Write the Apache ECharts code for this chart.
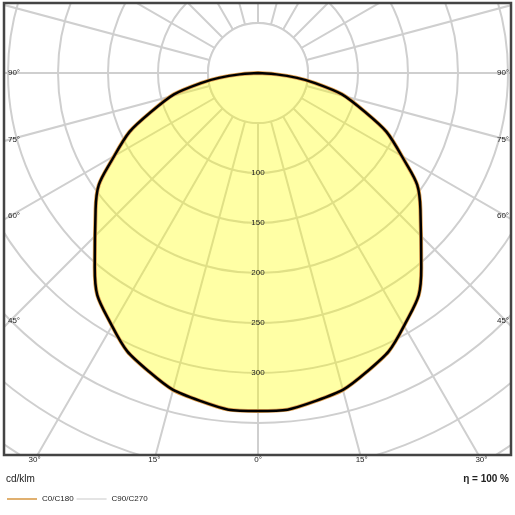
<!DOCTYPE html>
<html>
<head>
<meta charset="utf-8">
<script src="https://cdn.jsdelivr.net/npm/echarts@6/dist/echarts.min.js"></script>
<style>html,body{margin:0;padding:0;background:#fff}#chart{width:515px;height:515px}</style>
</head>
<body>
<div id="chart"></div>
<script>
// angle from nadir (deg) and intensity (cd/klm)
var gammaAngles = [0, 10, 20, 30, 40, 50, 60, 70, 80, 90];
var intensityC0 = [338, 333, 318, 292, 254, 212, 166, 114, 58, 0];
var intensityC90 = [338, 333, 318, 292, 254, 212, 166, 114, 58, 0];
var ringLabels = [100, 150, 200, 250, 300];
var sideLabels = ['90°', '75°', '60°', '45°'];
var sideAngles = [90, 75, 60, 45];
var bottomLabels = ['30°', '15°', '0°', '15°', '30°'];
var bottomAngles = [-30, -15, 0, 15, 30];

var cx = 258, cy = 73;
var frame = {x: 4, y: 3, w: 507, h: 452};

function curve(vals) {
    var pts = [];
    for (var i = gammaAngles.length - 1; i > 0; i--) pts.push([vals[i], -gammaAngles[i]]);
    for (var j = 0; j < gammaAngles.length; j++) pts.push([vals[j], gammaAngles[j]]);
    return pts;
}

var myChart = echarts.init(document.getElementById('chart'));
var graphics = [
    {type: 'circle', shape: {cx: cx, cy: cy, r: 50}, style: {fill: '#fff', stroke: '#cfcfcf', lineWidth: 2}, z: 1}
];
// cover outside the frame
[[0, 0, 515, frame.y], [0, frame.y + frame.h, 515, 515], [0, 0, frame.x, 515], [frame.x + frame.w, 0, 10, 515]].forEach(function (r) {
    graphics.push({type: 'rect', shape: {x: r[0], y: r[1], width: r[2], height: r[3]}, style: {fill: '#fff'}, z: 100});
});
graphics.push({type: 'rect', shape: {x: frame.x, y: frame.y, width: frame.w, height: frame.h},
    style: {fill: 'none', stroke: '#444', lineWidth: 2.5}, z: 101});
ringLabels.forEach(function (v) {
    graphics.push({type: 'text', x: cx, y: cy + v, z: 50,
        style: {text: String(v), fill: '#222', font: '8px Liberation Sans', align: 'center', verticalAlign: 'middle'}});
});
sideAngles.forEach(function (a, i) {
    var y = cy + Math.abs(cx - frame.x - 6) / Math.tan(a * Math.PI / 180);
    graphics.push({type: 'text', x: 14, y: y, z: 102,
        style: {text: sideLabels[i], fill: '#222', font: '8px Liberation Sans', align: 'center', verticalAlign: 'middle'}});
    graphics.push({type: 'text', x: 503, y: y, z: 102,
        style: {text: sideLabels[i], fill: '#222', font: '8px Liberation Sans', align: 'center', verticalAlign: 'middle'}});
});
bottomAngles.forEach(function (a, i) {
    var y = 460;
    var x = cx + (y - cy) * Math.tan(a * Math.PI / 180);
    graphics.push({type: 'text', x: x, y: y, z: 102,
        style: {text: bottomLabels[i], fill: '#222', font: '8px Liberation Sans', align: 'center', verticalAlign: 'middle'}});
});
graphics.push({type: 'text', x: 6, y: 479, z: 102,
    style: {text: 'cd/klm', fill: '#222', font: '10px Liberation Sans', verticalAlign: 'middle'}});
graphics.push({type: 'text', x: 509, y: 479, z: 102,
    style: {text: 'η = 100 %', fill: '#222', font: 'bold 10px Liberation Sans', align: 'right', verticalAlign: 'middle'}});

var option = {
    animation: false,
    polar: {center: [cx, cy], radius: [0, 600]},
    radiusAxis: {
        min: 0, max: 600, interval: 50,
        axisLine: {show: false}, axisTick: {show: false}, axisLabel: {show: false},
        splitLine: {show: true, lineStyle: {color: '#cfcfcf', width: 2}}
    },
    angleAxis: {
        type: 'value', min: -180, max: 180, interval: 15, startAngle: 90,
        axisLine: {show: false}, axisTick: {show: false}, axisLabel: {show: false},
        splitLine: {show: true, lineStyle: {color: '#cfcfcf', width: 2}}
    },
    legend: {
        left: 2, top: 490, orient: 'vertical', itemWidth: 30, itemHeight: 2, itemGap: 3, icon: 'rect',
        textStyle: {fontSize: 8, color: '#222', fontFamily: 'Liberation Sans'}, z: 110,
        data: [
            {name: 'C0/C180', itemStyle: {color: '#e0b070'}},
            {name: 'C90/C270', itemStyle: {color: '#e4e4e4'}}
        ]
    },
    graphic: graphics,
    series: [
        {
            name: 'C0/C180', type: 'line', coordinateSystem: 'polar', smooth: true, symbol: 'none', z: 3,
            data: curve(intensityC0),
            lineStyle: {color: '#e0a050', width: 4},
            itemStyle: {color: '#e0b070'},
            areaStyle: {color: 'rgba(255,255,0,0.5)'}
        },
        {
            name: 'C90/C270', type: 'line', coordinateSystem: 'polar', smooth: true, symbol: 'none', z: 4,
            data: curve(intensityC90),
            lineStyle: {color: '#000', width: 2.5},
            itemStyle: {color: '#e4e4e4'}
        }
    ]
};
myChart.setOption(option);
</script>
</body>
</html>
